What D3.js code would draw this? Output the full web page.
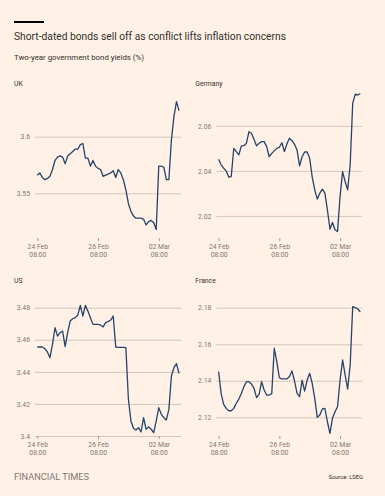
<!DOCTYPE html>
<html>
<head>
<meta charset="utf-8">
<script src="https://cdn.jsdelivr.net/npm/d3@7"></script>
<style>
  html, body { margin: 0; padding: 0; background: #fff1e5; }
  svg { display: block; }
  text { font-family: Roboto, "Noto Sans", sans-serif; }
</style>
</head>
<body>
<div id="vis"></div>
<script>

var width = 385,
    height = 496;

// two-hourly readings, 24 Feb 08:00 onwards (weekend skipped)
var uk = [3.566, 3.568, 3.564, 3.562, 3.563, 3.565, 3.571, 3.579, 3.582, 3.583,
          3.582, 3.576, 3.583, 3.585, 3.587, 3.589, 3.589, 3.593, 3.594, 3.581,
          3.581, 3.574, 3.579, 3.574, 3.572, 3.571, 3.565, 3.566, 3.567, 3.568,
          3.570, 3.564, 3.571, 3.568, 3.562, 3.553, 3.541, 3.534, 3.530, 3.528,
          3.528, 3.528, 3.527, 3.522, 3.525, 3.526, 3.524, 3.518, 3.574, 3.574,
          3.573, 3.562, 3.562, 3.597, 3.618, 3.631, 3.623];

var germany = [2.0452, 2.0427, 2.0412, 2.0400, 2.0372, 2.0375, 2.0500, 2.0486, 2.0471, 2.0511,
               2.0512, 2.0523, 2.0574, 2.0567, 2.0540, 2.0511, 2.0523, 2.0530, 2.0530, 2.0508,
               2.0463, 2.0478, 2.0489, 2.0500, 2.0505, 2.0525, 2.0486, 2.0520, 2.0545, 2.0534,
               2.0518, 2.0493, 2.0422, 2.0463, 2.0484, 2.0484, 2.0456, 2.0372, 2.0316, 2.0275,
               2.0301, 2.0319, 2.0301, 2.0227, 2.0142, 2.0171, 2.0139, 2.0131, 2.0286, 2.0397,
               2.0353, 2.0316, 2.0427, 2.0700, 2.0741, 2.0737, 2.0744];

var us = [3.4555, 3.4555, 3.4555, 3.4544, 3.4524, 3.4488, 3.4571, 3.4675, 3.4623, 3.4644,
          3.4654, 3.4557, 3.4644, 3.4717, 3.4731, 3.4738, 3.4754, 3.4815, 3.4748, 3.4815,
          3.4779, 3.4738, 3.4696, 3.4696, 3.4696, 3.4692, 3.4680, 3.4707, 3.4713, 3.4723,
          3.4748, 3.4555, 3.4553, 3.4553, 3.4553, 3.4551, 3.4229, 3.4094, 3.4048, 3.4037,
          3.4052, 3.4025, 3.4114, 3.4042, 3.4056, 3.4042, 3.4021, 3.4094, 3.4177, 3.4135,
          3.4114, 3.4100, 3.4166, 3.4374, 3.4426, 3.4451, 3.4391];

var france = [2.1450, 2.1331, 2.1271, 2.1249, 2.1236, 2.1236, 2.1249, 2.1277, 2.1300, 2.1331,
              2.1368, 2.1395, 2.1395, 2.1382, 2.1359, 2.1308, 2.1326, 2.1395, 2.1350, 2.1322,
              2.1322, 2.1330, 2.1578, 2.1505, 2.1417, 2.1410, 2.1410, 2.1410, 2.1423, 2.1454,
              2.1399, 2.1331, 2.1313, 2.1404, 2.1344, 2.1404, 2.1441, 2.1386, 2.1304, 2.1200,
              2.1213, 2.1246, 2.1249, 2.1176, 2.1112, 2.1195, 2.1231, 2.1258, 2.1404, 2.1514,
              2.1432, 2.1355, 2.1486, 2.1806, 2.1800, 2.1793, 2.1778];

var ukTicks = [3.55, 3.6],
    germanyTicks = [2.02, 2.04, 2.06],
    usTicks = [3.4, 3.42, 3.44, 3.46, 3.48],
    franceTicks = [2.12, 2.14, 2.16, 2.18];

var ukDomain = [3.5105, 3.6386],
    germanyDomain = [2.0102, 2.0746],
    usDomain = [3.4, 3.4848],
    franceDomain = [2.1098, 2.1842];

var dateTicks = [0, 24, 48],
    dateLabels = [["24 Feb", "08:00"], ["26 Feb", "08:00"], ["02 Mar", "08:00"]];

var panels = [
    {name: "UK", values: uk, ticks: ukTicks, domain: ukDomain, col: 0, row: 0},
    {name: "Germany", values: germany, ticks: germanyTicks, domain: germanyDomain, col: 1, row: 0},
    {name: "US", values: us, ticks: usTicks, domain: usDomain, col: 0, row: 1},
    {name: "France", values: france, ticks: franceTicks, domain: franceDomain, col: 1, row: 1}
];

var colLeft = [35, 216.3],
    plotWidth = 146,
    rowTop = [93, 300],
    rowBottom = [238, 436],
    titleY = [86, 283];

var ink = "#33302e",
    grey = "#7f7872",
    grid = "#c9bdb2",
    lineColor = "#26446b";

var svg = d3.select("#vis").append("svg")
    .attr("width", width)
    .attr("height", height)
    .style("background", "#fff1e5");

svg.append("rect")
    .attr("x", 14).attr("y", 21)
    .attr("width", 30).attr("height", 2)
    .attr("fill", "#000");

svg.append("text")
    .attr("x", 14).attr("y", 39.5)
    .attr("font-size", 10.5)
    .attr("fill", ink)
    .attr("textLength", 272)
    .attr("lengthAdjust", "spacingAndGlyphs")
    .text("Short-dated bonds sell off as conflict lifts inflation concerns");

svg.append("text")
    .attr("x", 14).attr("y", 60)
    .attr("font-size", 7.5)
    .attr("fill", ink)
    .attr("textLength", 130)
    .attr("lengthAdjust", "spacingAndGlyphs")
    .text("Two-year government bond yields (%)");

panels.forEach(function(p) {
    var left = colLeft[p.col],
        top = rowTop[p.row],
        bottom = rowBottom[p.row];

    var x = d3.scaleLinear()
        .domain([0, p.values.length - 1])
        .range([left + 2.3, left + plotWidth - 2]);

    var y = d3.scaleLinear()
        .domain(p.domain)
        .range([bottom, top]);

    var g = svg.append("g");

    g.append("text")
        .attr("x", left - 21)
        .attr("y", titleY[p.row])
        .attr("font-size", 6.8)
        .attr("fill", ink)
        .text(p.name);

    // y axis drawn from the right edge so the tick lines become the grid
    var yAxis = g.append("g")
        .attr("transform", "translate(" + (left + plotWidth) + ",0)")
        .call(d3.axisLeft(y)
            .tickValues(p.ticks)
            .tickFormat(function(d) { return String(d); })
            .tickSizeInner(plotWidth)
            .tickSizeOuter(0)
            .tickPadding(5));

    yAxis.select(".domain").remove();
    yAxis.selectAll(".tick line").attr("stroke", grid).attr("stroke-width", 0.8);
    yAxis.selectAll(".tick text")
        .attr("fill", grey)
        .attr("font-size", 6.8)
        .attr("font-family", "Roboto, sans-serif");

    var xAxis = g.append("g")
        .attr("transform", "translate(0," + bottom + ")")
        .call(d3.axisBottom(x)
            .tickValues(dateTicks)
            .tickSizeInner(3)
            .tickSizeOuter(0)
            .tickFormat(""));

    xAxis.select(".domain").remove();
    xAxis.selectAll(".tick line").attr("stroke", grey).attr("stroke-width", 0.7);
    xAxis.selectAll(".tick text").remove();

    xAxis.selectAll(".tick").each(function(d, i) {
        var t = d3.select(this).append("text")
            .attr("fill", grey)
            .attr("font-size", 6.8)
            .attr("font-family", "Roboto, sans-serif")
            .attr("text-anchor", "middle");
        t.append("tspan").attr("x", 0).attr("y", 10.5).text(dateLabels[i][0]);
        t.append("tspan").attr("x", 0).attr("y", 19).text(dateLabels[i][1]);
    });

    var line = d3.line()
        .x(function(d, i) { return x(i); })
        .y(function(d) { return y(d); });

    g.append("path")
        .datum(p.values)
        .attr("fill", "none")
        .attr("stroke", lineColor)
        .attr("stroke-width", 1.3)
        .attr("stroke-linejoin", "round")
        .attr("d", line);
});

svg.append("text")
    .attr("x", 14).attr("y", 479.5)
    .attr("font-size", 8.5)
    .attr("fill", grey)
    .attr("font-family", "\"Liberation Serif\", serif")
    .attr("textLength", 75)
    .attr("lengthAdjust", "spacingAndGlyphs")
    .text("FINANCIAL TIMES");

svg.append("text")
    .attr("x", 363).attr("y", 479)
    .attr("font-size", 5.8)
    .attr("fill", ink)
    .attr("text-anchor", "end")
    .text("Source: LSEG");

</script>
</body>
</html>
